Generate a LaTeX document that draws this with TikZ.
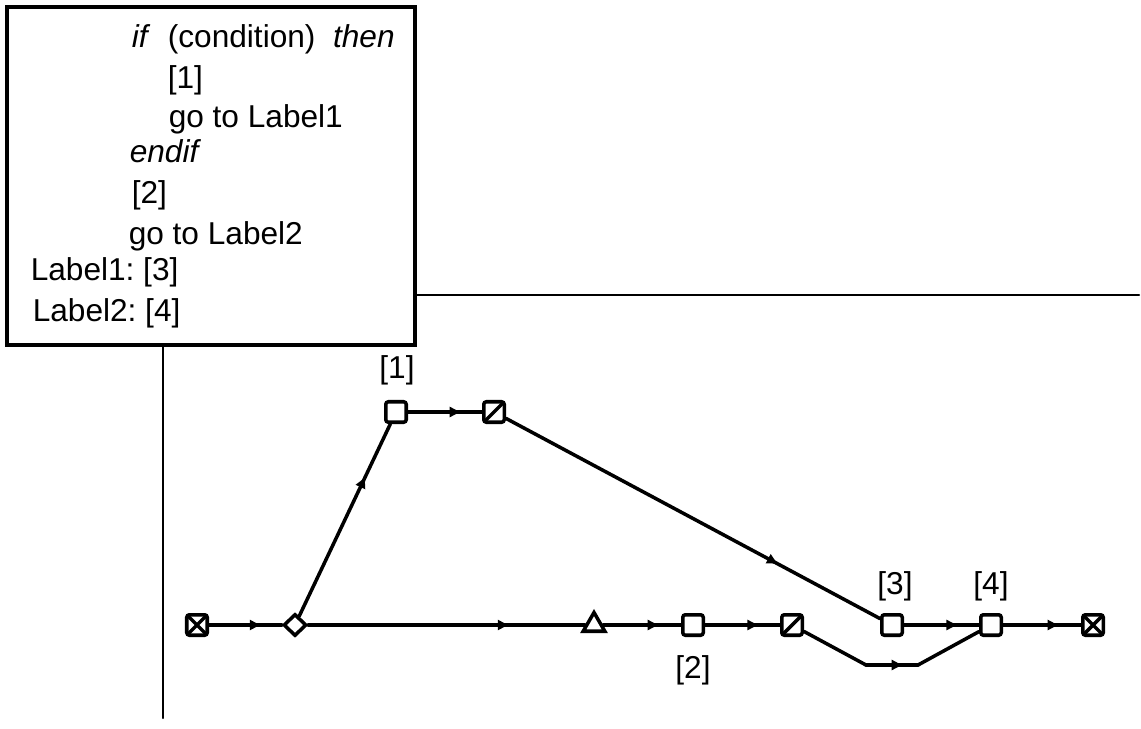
\documentclass[tikz,border=0pt]{standalone}
\usepackage{fontspec}
\setmainfont{Liberation Sans}
\usetikzlibrary{shapes.geometric, arrows.meta, decorations.markings, positioning}
\frenchspacing

\begin{document}
\begin{tikzpicture}[
    x=0.02cm, y=-0.02cm,
    line width=2pt, line cap=round,
    every node/.style={font=\fontsize{18}{21}\selectfont},
    code/.style={anchor=base west, inner sep=0pt},
    tag/.style={anchor=base, inner sep=0pt},
    box/.style={rectangle, rounded corners=1.5pt, draw, minimum size=0.41cm, inner sep=0pt},
    xbox/.style={box, path picture={\draw (path picture bounding box.south west) -- (path picture bounding box.north east) (path picture bounding box.north west) -- (path picture bounding box.south east);}},
    cutbox/.style={box, path picture={\draw (path picture bounding box.south west) -- (path picture bounding box.north east);}},
    branch/.style={diamond, draw, minimum width=0.46cm, minimum height=0.44cm, inner sep=0pt},
    merge/.style={regular polygon, regular polygon sides=3, draw, minimum size=0.5cm, inner sep=0pt},
    axis/.style={line width=1.2pt},
    flow/.style={decoration={markings, mark=at position 0.73 with {\arrow{Latex[length=7pt,width=6.5pt]}}}, postaction={decorate}}
]
\useasboundingbox (0,0) rectangle (1141,729);

% code listing
\node (codebox) [draw, line width=2.4pt, minimum width=8.16cm, minimum height=6.76cm, inner sep=0pt] at (211,176) {};
\node (c1) [code] at (130,48) {\textit{if}\ \ (condition)\ \ \textit{then}};
\node (c2) [code] at (166,89) {[1]};
\node (c3) [code] at (167,128) {go to Label1};
\node (c4) [code] at (128,163) {\textit{endif}};
\node (c5) [code] at (130,204) {[2]};
\node (c6) [code] at (127,245) {go to Label2};
\node (c7) [code] at (29,280) {Label1: [3]};
\node (c8) [code] at (31,321) {Label2: [4]};

\coordinate (hEnd) at (1139,295);
\coordinate (vEnd) at (163,718);
\draw [axis] (codebox.east |- hEnd) -- (hEnd);
\draw [axis] (codebox.south -| vEnd) -- (vEnd);

% graph
\node (start) [xbox] at (197,625) {};
\node (split) [branch] at (295,625) {};
\node (join) [merge] at (594,625) {};
\node (sq2) [box] at (693,625) {};
\node (cut2) [cutbox] at (792,625) {};
\node (sq3) [box] at (892,625) {};
\node (sq4) [box] at (991,625) {};
\node (stop) [xbox] at (1093,625) {};
\node (sq1) [box] at (396,412) {};
\node (cut1) [cutbox] at (494,412) {};
\coordinate (dipA) at (866,665);
\coordinate (dipB) at (918,665);

\node (t1) [tag] at (397,378) {[1]};
\node (t2) [tag] at (693,678) {[2]};
\node (t3) [tag] at (895,594) {[3]};
\node (t4) [tag] at (991,594) {[4]};

\draw [flow] (start) -- (split);
\draw [flow] (split) -- (join);
\draw [flow] (join) -- (sq2);
\draw [flow] (sq2) -- (cut2);
\draw [flow] (sq3) -- (sq4);
\draw [flow] (sq4) -- (stop);
\draw [flow] (split) -- (sq1);
\draw [flow] (sq1) -- (cut1);
\draw [flow] (cut1) -- (sq3);
\draw (cut2) -- (dipA);
\draw [flow] (dipA) -- (dipB);
\draw (dipB) -- (sq4);

\end{tikzpicture}
\end{document}
